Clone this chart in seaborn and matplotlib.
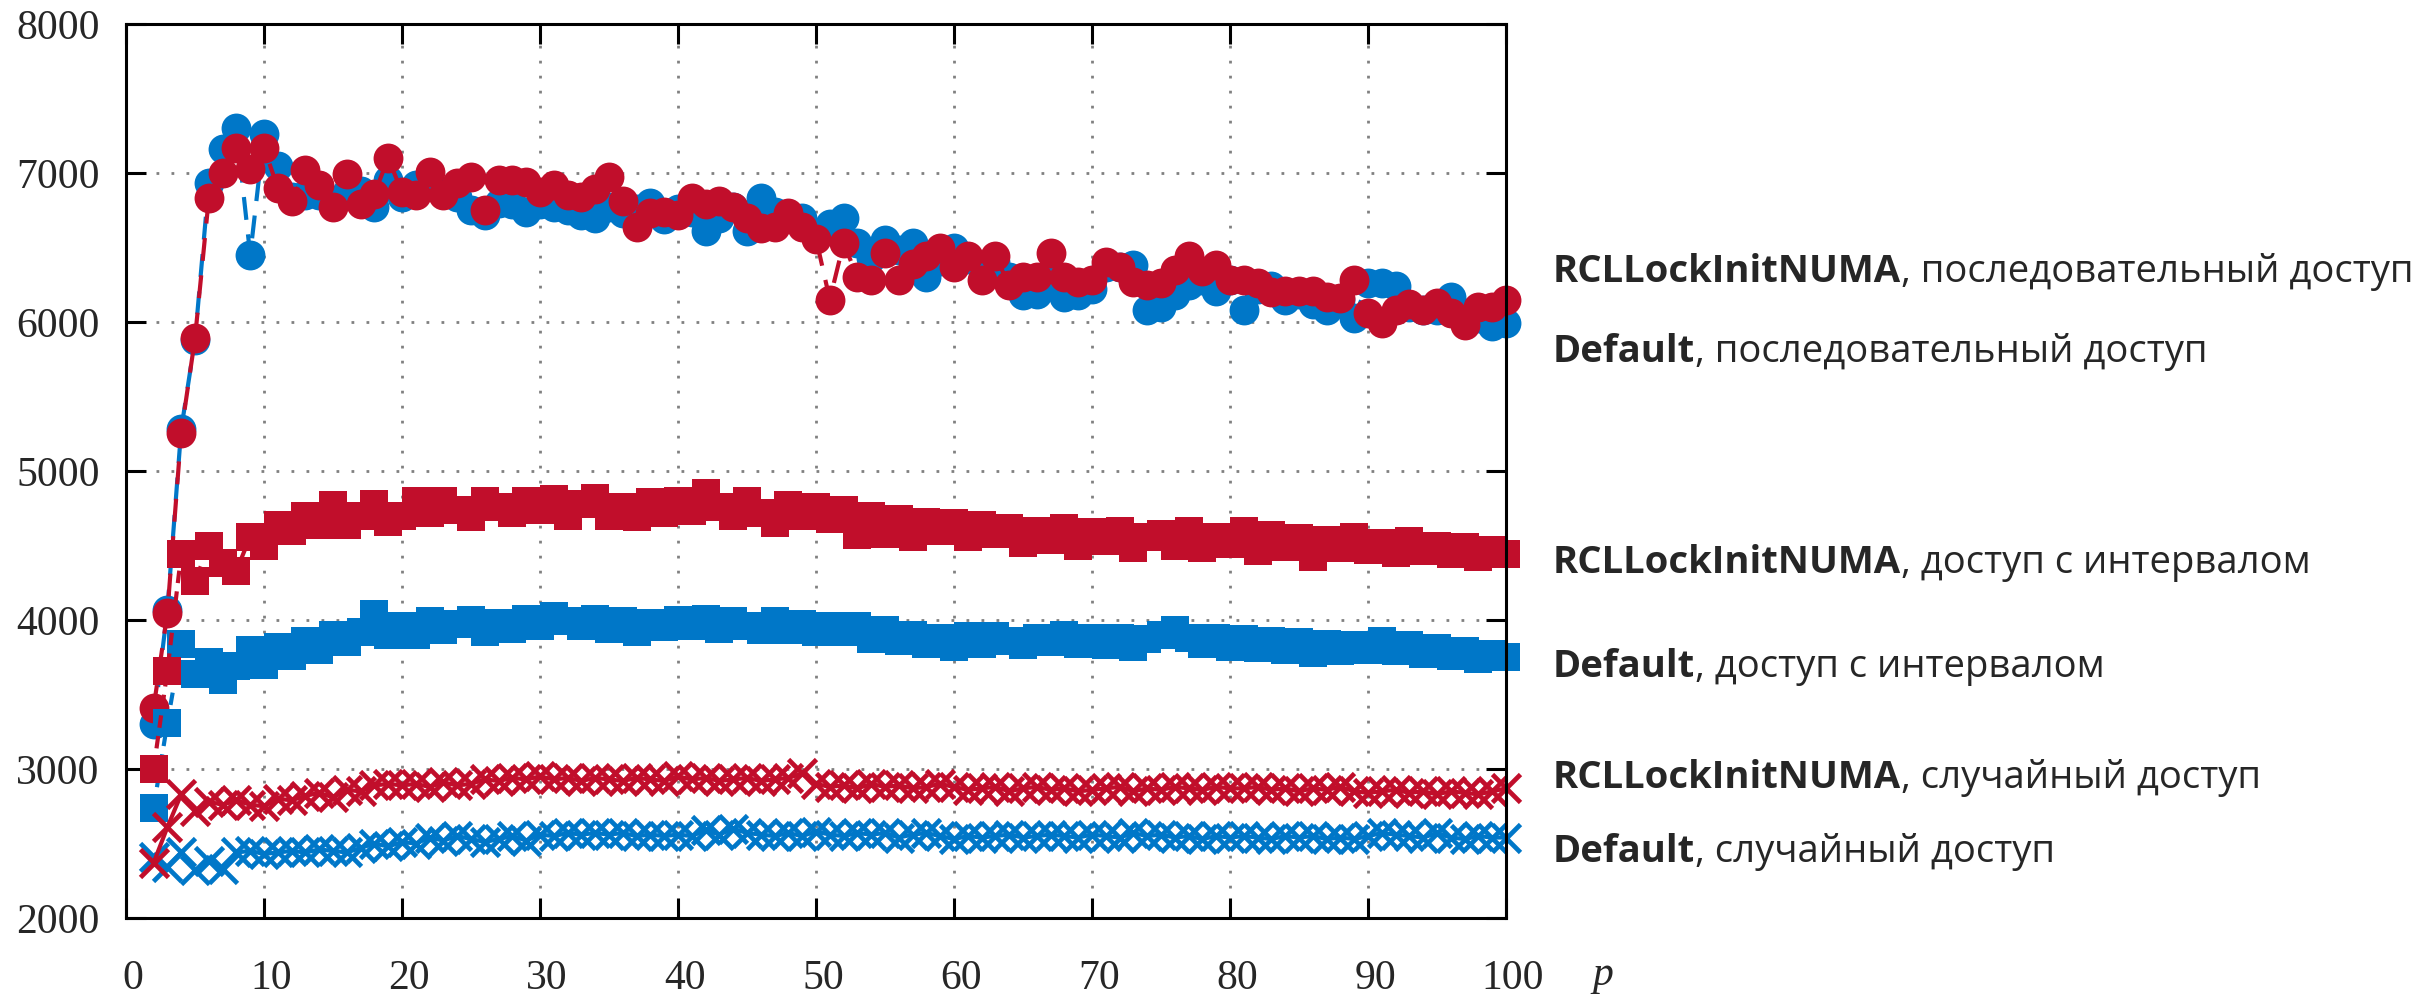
import matplotlib
matplotlib.use("Agg")
import matplotlib.pyplot as plt
from matplotlib.transforms import ScaledTranslation
import seaborn as sns

# thread count
p = list(range(2, 101))

# sequential access
default_seq = [
    3300, 4070, 5280, 5880, 6930, 7160, 7300, 6450, 7260, 7050,
    6840, 6850, 6850, 6790, 6870, 6880, 6770, 6950, 6840, 6920,
    6910, 6870, 6840, 6750, 6720, 6800, 6790, 6740, 6790, 6770,
    6750, 6720, 6700, 6770, 6730, 6760, 6800, 6690, 6760, 6740,
    6610, 6700, 6770, 6610, 6830, 6740, 6720, 6700, 6570, 6660,
    6700, 6530, 6430, 6550, 6480, 6530, 6300, 6410, 6500, 6420,
    6370, 6400, 6300, 6180, 6190, 6280, 6170, 6180, 6220, 6370,
    6370, 6380, 6080, 6100, 6180, 6250, 6280, 6210, 6280, 6080,
    6220, 6240, 6150, 6190, 6120, 6080, 6150, 6030, 6260, 6260,
    6240, 6100, 6080, 6080, 6170, 6060, 6030, 5970, 5990,
]
rcl_seq = [
    3410, 4050, 5255, 5890, 6830, 7000, 7170, 7030, 7170, 6900,
    6810, 7020, 6920, 6770, 6990, 6790, 6860, 7100, 6870, 6850,
    7010, 6850, 6930, 6970, 6750, 6950, 6950, 6940, 6870, 6920,
    6850, 6840, 6890, 6970, 6810, 6640, 6730, 6740, 6720, 6830,
    6790, 6810, 6770, 6700, 6630, 6640, 6730, 6640, 6560, 6150,
    6530, 6300, 6280, 6460, 6280, 6390, 6440, 6500, 6370, 6440,
    6280, 6440, 6250, 6300, 6300, 6460, 6300, 6270, 6280, 6400,
    6370, 6270, 6250, 6260, 6350, 6440, 6340, 6380, 6280, 6280,
    6260, 6200, 6210, 6210, 6210, 6170, 6160, 6280, 6060, 5990,
    6080, 6120, 6080, 6130, 6060, 5980, 6100, 6100, 6150,
]

# strided access
default_int = [
    2740, 3310, 3840, 3640, 3720, 3600, 3690, 3800, 3700, 3820,
    3760, 3860, 3800, 3900, 3850, 3920, 4040, 3900, 3960, 3900,
    3990, 3930, 3970, 4000, 3920, 3980, 3940, 4010, 3960, 4030,
    3990, 3960, 4010, 3940, 3990, 3920, 3980, 3950, 4000, 3960,
    4010, 3940, 3990, 3960, 3930, 3990, 3930, 3970, 3920, 3960,
    3920, 3960, 3870, 3930, 3860, 3900, 3840, 3880, 3820, 3890,
    3840, 3890, 3860, 3830, 3880, 3850, 3900, 3840, 3880, 3830,
    3880, 3820, 3870, 3900, 3930, 3880, 3840, 3880, 3820, 3870,
    3810, 3860, 3800, 3850, 3780, 3840, 3790, 3830, 3800, 3860,
    3790, 3830, 3770, 3810, 3760, 3790, 3740, 3770, 3750,
]
rcl_int = [
    3000, 3660, 4440, 4260, 4500, 4380, 4330, 4560, 4500, 4640,
    4600, 4700, 4640, 4770, 4640, 4700, 4780, 4660, 4700, 4800,
    4720, 4800, 4740, 4690, 4800, 4760, 4720, 4800, 4740, 4810,
    4700, 4780, 4820, 4700, 4760, 4690, 4790, 4720, 4800, 4730,
    4850, 4760, 4700, 4800, 4720, 4650, 4770, 4700, 4760, 4680,
    4740, 4570, 4700, 4580, 4680, 4560, 4660, 4600, 4650, 4560,
    4640, 4580, 4620, 4520, 4600, 4540, 4620, 4500, 4590, 4530,
    4600, 4480, 4560, 4580, 4500, 4600, 4480, 4560, 4510, 4600,
    4460, 4570, 4490, 4550, 4420, 4540, 4480, 4560, 4470, 4520,
    4450, 4530, 4460, 4500, 4440, 4490, 4420, 4470, 4440,
]

# random access
default_rand = [
    2410, 2340, 2440, 2320, 2380, 2330, 2440, 2450, 2430, 2440,
    2450, 2440, 2460, 2450, 2440, 2470, 2500, 2480, 2510, 2500,
    2540, 2520, 2550, 2530, 2510, 2530, 2550, 2520, 2560, 2550,
    2570, 2560, 2570, 2560, 2570, 2550, 2560, 2550, 2560, 2550,
    2590, 2560, 2600, 2570, 2560, 2550, 2570, 2550, 2580, 2560,
    2550, 2570, 2560, 2570, 2540, 2560, 2570, 2550, 2530, 2550,
    2540, 2550, 2560, 2540, 2550, 2560, 2550, 2540, 2560, 2550,
    2540, 2570, 2550, 2560, 2540, 2550, 2530, 2550, 2540, 2550,
    2540, 2530, 2550, 2540, 2550, 2530, 2540, 2530, 2550, 2570,
    2560, 2550, 2540, 2570, 2540, 2530, 2550, 2540, 2540,
]
rcl_rand = [
    2370, 2610, 2830, 2720, 2780, 2760, 2790, 2760, 2750, 2800,
    2790, 2820, 2840, 2810, 2860, 2850, 2890, 2900, 2890, 2900,
    2880, 2910, 2890, 2900, 2930, 2920, 2940, 2930, 2950, 2930,
    2940, 2920, 2940, 2930, 2920, 2940, 2930, 2920, 2950, 2930,
    2940, 2920, 2930, 2940, 2920, 2930, 2940, 2970, 2900, 2880,
    2890, 2870, 2900, 2880, 2890, 2870, 2880, 2900, 2880, 2860,
    2870, 2880, 2850, 2870, 2880, 2860, 2870, 2850, 2860, 2870,
    2880, 2850, 2870, 2860, 2880, 2870, 2860, 2880, 2870, 2870,
    2880, 2860, 2870, 2850, 2870, 2860, 2880, 2850, 2840, 2850,
    2860, 2840, 2850, 2830, 2850, 2840, 2830, 2850, 2870,
]

series_names = ["RCLLockInitNUMA", "Default"]
access_names = ["последовательный доступ", "доступ с интервалом", "случайный доступ"]
x_ticks = [0, 10, 20, 30, 40, 50, 60, 70, 80, 90, 100]
y_ticks = [2000, 3000, 4000, 5000, 6000, 7000, 8000]

BLUE = "#0077C8"
RED = "#C10E2B"

sns.set_style("white")
plt.rcParams["font.family"] = ["Liberation Serif", "DejaVu Serif"]

fig = plt.figure(figsize=(24.28, 9.97), dpi=100)
ax = fig.add_axes([126 / 2428, 1 - 918 / 997, 1380 / 2428, 894 / 997])

lw = 3.0
common = dict(ax=ax, sort=False, errorbar=None, clip_on=False, linewidth=lw)

# sequential: filled circles, dashed lines
for vals, col in ((default_seq, BLUE), (rcl_seq, RED)):
    sns.lineplot(x=p, y=vals, color=col, marker="o", markersize=21.5,
                 markeredgewidth=0, **common)
    ax.lines[-1].set_dashes((5.5, 3.5))

# strided: filled squares
for vals, col in ((default_int, BLUE), (rcl_int, RED)):
    sns.lineplot(x=p, y=vals, color=col, marker="s", markersize=20.5,
                 markeredgewidth=0, **common)
    ax.lines[-1].set_dashes((3.0, 2.0))

# random: crosses, solid lines
for vals, col in ((default_rand, BLUE), (rcl_rand, RED)):
    sns.lineplot(x=p, y=vals, color=col, marker="x", markersize=20,
                 markeredgewidth=3.4, markeredgecolor=col, **common)

ax.set_xlim(0, 100)
ax.set_ylim(2000, 8000)
ax.set_xticks(x_ticks)
ax.set_yticks(y_ticks)
ax.set_xticklabels([str(v) for v in x_ticks])
ax.set_yticklabels([str(v) for v in y_ticks])
ax.set_xlabel("")
ax.set_ylabel("")

for s in ax.spines.values():
    s.set_visible(True)
    s.set_linewidth(2.2)
    s.set_color("black")

ax.tick_params(axis="both", which="major", direction="in", length=14.5,
               width=2.2, color="black", labelsize=30,
               top=True, right=True, bottom=True, left=True)
ax.tick_params(axis="x", pad=30)
ax.tick_params(axis="y", pad=19)

ax.set_axisbelow(True)
ax.grid(True, color="#808080", linestyle=(0, (1, 4.4)), linewidth=2.0)

# nudge x tick labels slightly to the right
shift = ScaledTranslation(7 / 100, 0, fig.dpi_scale_trans)
for lab in ax.get_xticklabels():
    lab.set_transform(lab.get_transform() + shift)

fig.text(1603 / 2428, 1 - 975 / 997, "p", fontsize=30, style="italic",
         family=["Liberation Serif"], ha="center", va="center")

# labels next to the series ends
label_rows = [
    (series_names[0], access_names[0], 282),
    (series_names[1], access_names[0], 362),
    (series_names[0], access_names[1], 573),
    (series_names[1], access_names[1], 677),
    (series_names[0], access_names[2], 788),
    (series_names[1], access_names[2], 862),
]
sans = ["Open Sans", "DejaVu Sans"]
for bold_part, rest, ybase in label_rows:
    yb = 1 - ybase / 997
    t = fig.text(1553 / 2428, yb, bold_part, fontsize=27.5, fontweight="bold",
                 family=sans, ha="left", va="baseline")
    ax.annotate(", " + rest, xy=(1, yb), xycoords=(t, "figure fraction"),
                fontsize=27.5, family=sans, ha="left", va="baseline",
                annotation_clip=False)

fig.savefig("out.png", dpi=100)
